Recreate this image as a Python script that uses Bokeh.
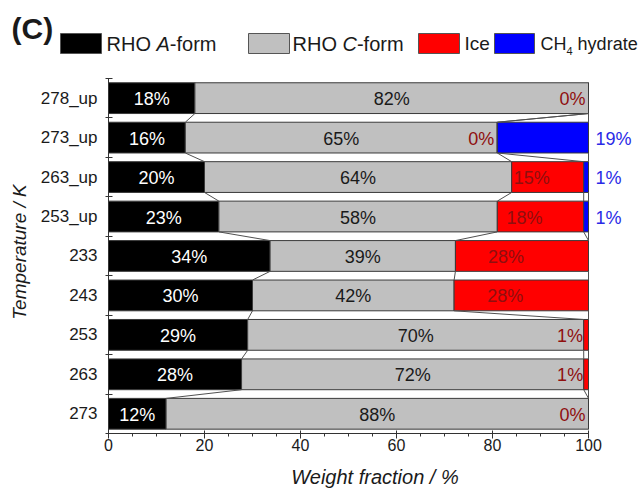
import numpy as np
from bokeh.plotting import figure
from bokeh.layouts import column
from bokeh.models import FixedTicker, Range1d
from bokeh.embed import file_html
from bokeh.resources import INLINE
from bokeh.core.properties import value

# ---------------- data (bottom to top) ----------------
temps = ["273", "263", "253", "243", "233", "253_up", "263_up", "273_up", "278_up"]
a_form = [12, 28, 29, 30, 34, 23, 20, 16, 18]
c_form = [88, 72, 70, 42, 39, 58, 64, 65, 82]
ice = [0, 1, 1, 28, 28, 18, 15, 0, 0]
ch4 = [None, None, None, None, None, 1, 1, 19, None]

series_colors = ["#000000", "#c0c0c0", "#ff0000", "#0000ff"]
x_ticks = [0, 20, 40, 60, 80, 100]
x_minor = list(range(0, 101, 5))

FONT = "Liberation Sans"
TXT = "#1a1a1a"
OUT = "#3a3a3a"

a = np.array(a_form, float)
c = np.array(c_form, float)
ic = np.array(ice, float)
hm = np.array([np.nan if v is None else v for v in ch4], float)
has_h = ~np.isnan(hm)
tot = a + c + ic + np.nan_to_num(hm)
sc = 100.0 / tot
e1 = a * sc
e2 = (a + c) * sc
e3 = (a + c + ic) * sc
e4 = (a + c + ic + np.nan_to_num(hm)) * sc
n = len(temps)
y = np.arange(n) + 0.5
H = 0.78

# ---------------- header: panel tag + legend ----------------
HH = 70
hdr = figure(width=641, height=HH, x_range=Range1d(0, 641), y_range=Range1d(HH, 0),
             output_backend="svg", toolbar_location=None,
             x_axis_type=None, y_axis_type=None, min_border=0)
hdr.frame_align = False
hdr.outline_line_color = None
hdr.grid.visible = False

def ht(x, ym, t, size, style="normal"):
    hdr.text(x=[x], y=[ym], text=[t], text_font=value(FONT), text_font_size=size,
             text_font_style=style, text_color=TXT, text_align="left",
             text_baseline="middle")

ht(11, 28, "(C)", "30px", "bold")
box_l = [60, 248, 418, 494]
box_r = [101, 289, 459, 534]
hdr.quad(left=box_l, right=box_r, top=[33] * 4, bottom=[53] * 4,
         fill_color=series_colors, line_color="#555555", line_width=1)
LS = 20
TY = 43
ht(106, TY, "RHO", f"{LS}px")
ht(106 + 2.5 * LS, TY, "A", f"{LS}px", "italic")
ht(106 + 2.5 * LS + 0.667 * LS, TY, "-form", f"{LS}px")
ht(292, TY, "RHO", f"{LS}px")
ht(292 + 2.5 * LS, TY, "C", f"{LS}px", "italic")
ht(292 + 2.5 * LS + 0.722 * LS, TY, "-form", f"{LS}px")
ht(464, TY, "Ice", "19px")
ht(540, TY, "CH", "18px")
ht(540 + 1.444 * 18, 50, "4", "11px")
ht(540 + 1.444 * 18 + 0.556 * 11 + 0.278 * 18, TY, "hydrate", "18px")

# ---------------- main plot ----------------
PXX = 4.8                 # px per % (frame 108..588)
PXY = 39.78               # px per category
x_end = 100 + (641 - 588) / PXX
y_end = n + 8 / PXY

p = figure(width=641, height=490 - HH, x_range=Range1d(0, x_end), y_range=Range1d(0, y_end),
           output_backend="svg", toolbar_location=None,
           min_border_left=108, min_border_right=0, min_border_top=0,
           min_border_bottom=54)
p.frame_align = False
p.outline_line_color = None
p.grid.visible = False

p.hbar(y=y, left=0, right=e1, height=H, fill_color=series_colors[0], line_color=OUT, line_width=1)
p.hbar(y=y, left=e1, right=e2, height=H, fill_color=series_colors[1], line_color=OUT, line_width=1)
p.hbar(y=y, left=e2, right=e3, height=H, fill_color=series_colors[2], line_color=OUT, line_width=1)
p.hbar(y=y[has_h], left=e3[has_h], right=e4[has_h], height=H, fill_color=series_colors[3],
       line_color=OUT, line_width=1)

# connecting lines between adjacent bars
x0s, y0s, x1s, y1s = [], [], [], []
for b in (e1, e2, e3, e4):
    for i in range(n - 1):
        x0s.append(b[i]); y0s.append(y[i] + H / 2)
        x1s.append(b[i + 1]); y1s.append(y[i + 1] - H / 2)
p.segment(x0=x0s, y0=y0s, x1=x1s, y1=y1s, line_color="#505050", line_width=1)

def pct(v):
    return [f"{int(round(t))}%" for t in v]

fs = "18px"
p.text(x=e1 / 2, y=y, text=pct(a), text_align="center", text_baseline="middle",
       text_color="white", text_font=value(FONT), text_font_size=fs, y_offset=1)
p.text(x=(e1 + e2) / 2, y=y, text=pct(c), text_align="center", text_baseline="middle",
       text_color=TXT, text_font=value(FONT), text_font_size=fs, y_offset=1)
p.text(x=(e2 + e3) / 2, y=y, text=pct(ic), text_align="center", text_baseline="middle",
       text_color="#8f0f0f", text_font=value(FONT), text_font_size=fs, y_offset=1,
       x_offset=-16)
p.text(x=e4[has_h], y=y[has_h], text=pct(hm[has_h]), text_align="left",
       text_baseline="middle", text_color="#2a2ae6", text_font=value(FONT),
       text_font_size=fs, y_offset=1, x_offset=7)

# axes
xa = p.xaxis[0]
xa.bounds = (0, 100)
xa.ticker = FixedTicker(ticks=x_ticks, minor_ticks=x_minor)
xa.major_tick_in = 3
xa.major_tick_out = 5
xa.minor_tick_in = 0
xa.minor_tick_out = 3
xa.major_label_standoff = 0
xa.major_label_text_font = FONT
xa.major_label_text_font_size = "16px"
xa.major_label_text_color = TXT
xa.axis_line_color = "#333333"
xa.major_tick_line_color = "#333333"
xa.minor_tick_line_color = "#333333"
xa.axis_label = "Weight fraction / %"
xa.axis_label_text_font = FONT
xa.axis_label_text_font_style = "italic"
xa.axis_label_text_font_size = "20px"
xa.axis_label_text_color = TXT
xa.axis_label_standoff = 12

ya = p.yaxis[0]
ya.bounds = (0, n)
ya.ticker = FixedTicker(ticks=list(y), minor_ticks=list(range(n + 1)))
ya.major_label_overrides = {float(yy): t for yy, t in zip(y, temps)}
ya.major_tick_in = 0
ya.major_tick_out = 0
ya.minor_tick_in = 4
ya.minor_tick_out = 3
ya.major_label_standoff = 8
ya.major_label_text_font = FONT
ya.major_label_text_font_size = "17px"
ya.major_label_text_color = TXT
ya.axis_line_color = "#333333"
ya.minor_tick_line_color = "#333333"
ya.axis_label = "Temperature / K"
ya.axis_label_text_font = FONT
ya.axis_label_text_font_style = "italic"
ya.axis_label_text_font_size = "19px"
ya.axis_label_text_color = TXT
ya.axis_label_standoff = 8

layout = column(hdr, p, spacing=0)
open("out.html", "w").write(file_html(layout, INLINE))
